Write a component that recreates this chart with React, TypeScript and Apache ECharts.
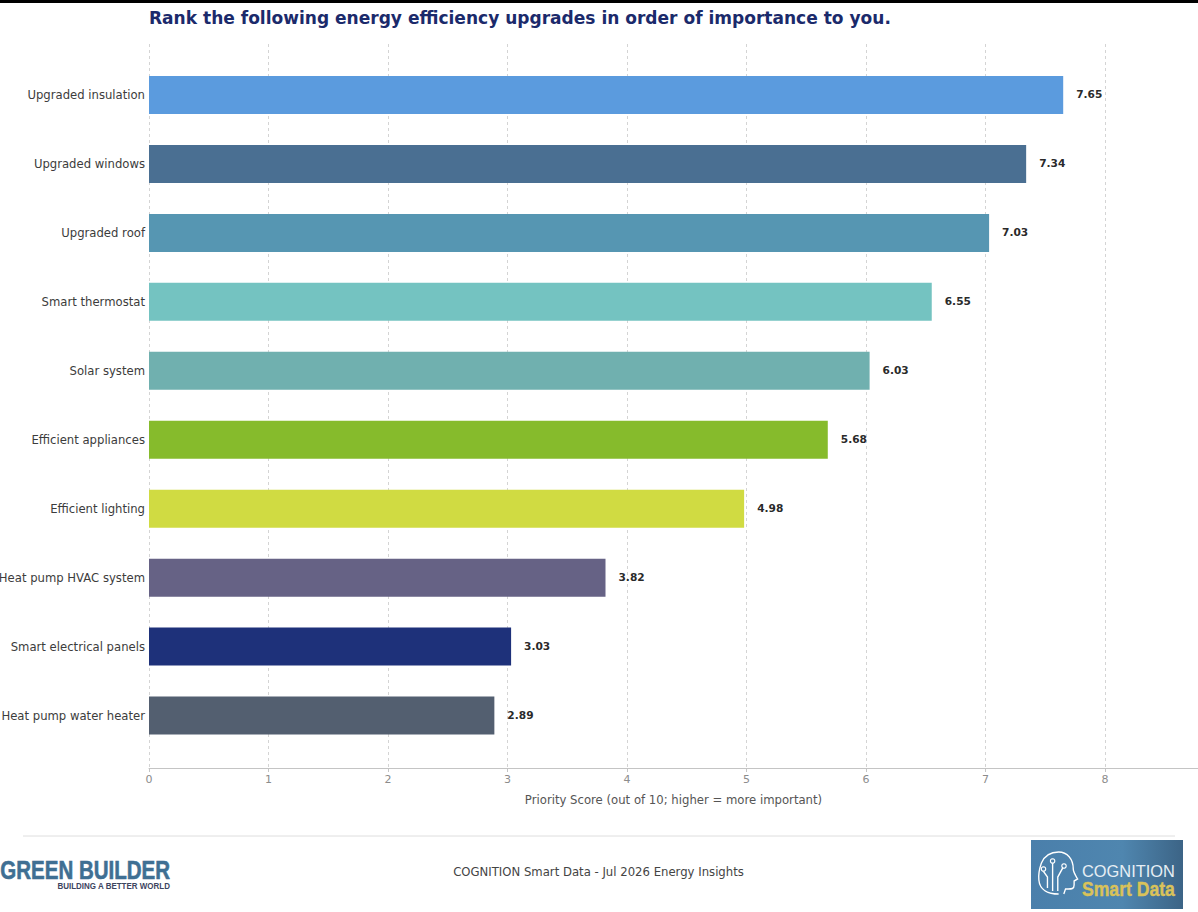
import React, { useEffect, useRef } from "react";
import * as echarts from "echarts";

const categories = ["Upgraded insulation", "Upgraded windows", "Upgraded roof", "Smart thermostat", "Solar system", "Efficient appliances", "Efficient lighting", "Heat pump HVAC system", "Smart electrical panels", "Heat pump water heater"];
const values = [7.65, 7.34, 7.03, 6.55, 6.03, 5.68, 4.98, 3.82, 3.03, 2.89];
const colors = ["#5B9BDE", "#4A6F92", "#5696B2", "#74C3C1", "#70B0AF", "#86BB2C", "#D0DB42", "#666285", "#1E317A", "#535F70"];
const FONT = "'DejaVu Sans', sans-serif";
const AXIS_MAX = 8.778;

echarts.graphic.registerShape("cogHead", echarts.graphic.extendPath(
  "M24 42 C12 42 2 38 1 28 C0 20 2 16 4 11 C8 3 16 0 24 0 C34 0 41 7 41 17 C41 20 44 24 46 27 L42 29 L42 33 C42 37 39 37 35 37 L32 37 L30 42 M11 36 L11 25 L6 19 M17 39 L17 9 M23 39 L23 25 L30 14",
  {}
));

export default function App() {
  const ref = useRef<HTMLDivElement>(null);
  useEffect(() => {
    document.body.style.margin = "0";
    const chart = echarts.init(ref.current!, undefined, { renderer: "svg" });
    chart.setOption({
      animation: false,
      backgroundColor: "#fff",
      textStyle: { fontFamily: FONT },
      grid: [
        { left: 149, top: 44, width: 1049, height: 724, outerBoundsMode: "none", containLabel: false },
        { left: 149, top: 60.5, width: 1049, height: 689.5, outerBoundsMode: "none", containLabel: false },
      ],
      xAxis: [
        {
          gridIndex: 0, type: "value", min: 0, max: AXIS_MAX, interval: 1,
          axisLine: { show: true, lineStyle: { color: "#c4c4c4", width: 1 } },
          axisTick: { show: true, length: 4, lineStyle: { color: "#c4c4c4" } },
          axisLabel: { color: "#8c8c8c", fontSize: 11, margin: 6, fontFamily: FONT, showMaxLabel: false },
          splitLine: { show: true, lineStyle: { color: "#d4d4d4", type: [3, 3], width: 1 } },
          name: "Priority Score (out of 10; higher = more important)",
          nameLocation: "middle",
          nameGap: 26,
          nameTextStyle: { color: "#555", fontSize: 11.68, fontFamily: FONT },
        },
        { gridIndex: 1, type: "value", min: 0, max: AXIS_MAX, show: false },
      ],
      yAxis: [
        { gridIndex: 0, type: "value", min: 0, max: 1, show: false },
        {
          gridIndex: 1, type: "category", inverse: true, data: categories,
          axisLine: { show: false }, axisTick: { show: false },
          axisLabel: { color: "#3c3c3c", fontSize: 11.65, margin: 4, padding: [2, 0, 0, 0], fontFamily: FONT },
        },
      ],
      series: [
        {
          type: "bar", xAxisIndex: 1, yAxisIndex: 1, barWidth: 38,
          data: values.map((v, i) => ({ value: v, itemStyle: { color: colors[i] } })),
          label: {
            show: true, position: "right", distance: 13, offset: [0, -1],
            formatter: (p: any) => p.value.toFixed(2),
            color: "#2a2a2a", fontSize: 10.6, fontWeight: "bold", fontFamily: FONT,
          },
        },
      ],
      graphic: [
        { type: "rect", shape: { x: 0, y: 0, width: 1198, height: 3 }, style: { fill: "#000" } },
        { type: "text", x: 149, y: 18, style: { text: "Rank the following energy efficiency upgrades in order of importance to you.", fill: "#1B2A6B", font: `bold 17.04px ${FONT}`, textVerticalAlign: "middle" } },
        { type: "line", shape: { x1: 23, y1: 836, x2: 1175, y2: 836 }, style: { stroke: "#dedede", lineWidth: 1 } },
        { type: "text", x: 598.5, y: 872, style: { text: "COGNITION Smart Data - Jul 2026 Energy Insights", fill: "#444", font: `11.68px ${FONT}`, textAlign: "center", textVerticalAlign: "middle" } },
        { type: "text", x: 170, y: 870, scaleX: 0.82, style: { text: "GREEN BUILDER", fill: "#3F6F93", stroke: "#3F6F93", lineWidth: 0.6, font: `bold 25px 'Liberation Sans', sans-serif`, textAlign: "right", textVerticalAlign: "middle" } },
        { type: "text", x: 170, y: 885.5, scaleX: 0.93, style: { text: "BUILDING A BETTER WORLD", fill: "#3D4560", font: `bold 8.6px 'Liberation Sans', sans-serif`, textAlign: "right", textVerticalAlign: "middle" } },
        {
          type: "rect", shape: { x: 1031, y: 840, width: 152, height: 69 },
          style: { fill: new echarts.graphic.LinearGradient(0, 0, 1, 0, [{ offset: 0, color: "#4A7FAB" }, { offset: 0.6, color: "#4F86AF" }, { offset: 1, color: "#3C6486" }]) },
        },
        { type: "cogHead", x: 1038, y: 852, scaleX: 0.86, scaleY: 1, style: { fill: "none", stroke: "#fff", lineWidth: 1.6 } },
        { type: "circle", shape: { cx: 1043.5, cy: 869, r: 2.2 }, style: { fill: "#4A7FAB", stroke: "#fff", lineWidth: 1.2 } },
        { type: "circle", shape: { cx: 1052.6, cy: 861, r: 2.2 }, style: { fill: "#4A7FAB", stroke: "#fff", lineWidth: 1.2 } },
        { type: "circle", shape: { cx: 1064, cy: 866, r: 2.2 }, style: { fill: "#4A7FAB", stroke: "#fff", lineWidth: 1.2 } },
        { type: "text", x: 1082, y: 871, style: { text: "COGNITION", fill: "#E6EEF4", font: `16.4px 'Liberation Sans', sans-serif`, textVerticalAlign: "middle" } },
        { type: "text", x: 1082, y: 889, scaleX: 0.88, style: { text: "Smart Data", fill: "#D9C25A", stroke: "#D9C25A", lineWidth: 0.4, font: `bold 20px 'Liberation Sans', sans-serif`, textVerticalAlign: "middle" } },
      ],
    });
    return () => chart.dispose();
  }, []);
  return <div ref={ref} style={{ width: 1198, height: 912, overflow: "hidden" }} />;
}
